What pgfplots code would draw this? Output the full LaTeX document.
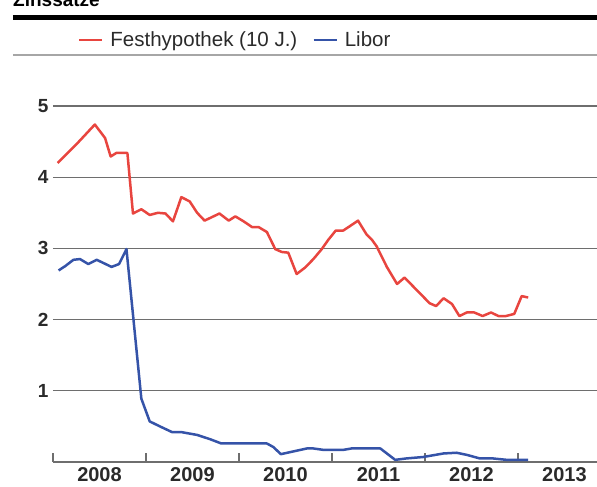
\documentclass[border=0pt]{standalone}
\usepackage{pgfplots}
\pgfplotsset{compat=1.18}
\usepackage{fontspec}
\setmainfont{Liberation Sans}
\definecolor{redline}{HTML}{E8453F}
\definecolor{blueline}{HTML}{3553A8}
\definecolor{gridgray}{HTML}{6E6E6E}
\definecolor{txt}{HTML}{2A2A2A}
\begin{document}
\begin{tikzpicture}
\useasboundingbox (-53pt,-25pt) rectangle (544pt,462pt);
\begin{axis}[
  scale only axis,
  width=544pt, height=391.6pt,
  xmin=2008, xmax=2013.85,
  ymin=0, ymax=5.5,
  axis x line*=bottom, axis y line*=left,
  y axis line style={draw=none},
  x axis line style={gridgray, line width=1.5pt},
  xtick={2008,2009,2010,2011,2012,2013},
  xticklabels={},
  major x tick style={gridgray, line width=1.2pt},
  major tick length=9pt,
  xtick align=inside,
  extra x ticks={2008.5,2009.5,2010.5,2011.5,2012.5,2013.5},
  extra x tick labels={2008,2009,2010,2011,2012,2013},
  extra x tick style={major tick length=0pt, grid=none},
  xticklabel style={font=\fontsize{20}{20}\selectfont\bfseries, text=txt, inner sep=1pt, yshift=-4pt},
  ytick={1,2,3,4,5},
  yticklabels={1,2,3,4,5},
  major y tick style={draw=none},
  yticklabel style={font=\fontsize{19}{19}\selectfont\bfseries, text=txt, xshift=-1pt},
  ymajorgrids,
  grid style={gridgray, line width=1.3pt},
  /pgf/number format/assume math mode=true,
  legend columns=2,
  legend style={at={(0.04,1.078)}, anchor=west, draw=none, fill=none,
    font=\fontsize{20.5}{20.5}\selectfont, text=txt,
    /tikz/every even column/.append style={column sep=13pt}},
  legend image code/.code={\draw[#1] (0pt,0pt)--(23pt,0pt); \path (28pt,0pt);},
]
\addplot[redline, line width=2.5pt, line join=round] coordinates {
(2008.05,4.20) (2008.25,4.46) (2008.45,4.74) (2008.56,4.55) (2008.62,4.29)
(2008.68,4.34) (2008.80,4.34) (2008.86,3.49) (2008.95,3.55) (2009.04,3.47)
(2009.13,3.50) (2009.21,3.49) (2009.29,3.38) (2009.38,3.72) (2009.47,3.66)
(2009.55,3.50) (2009.63,3.39) (2009.71,3.44) (2009.79,3.49) (2009.89,3.39)
(2009.96,3.45) (2010.05,3.38) (2010.14,3.30) (2010.21,3.30) (2010.30,3.23)
(2010.39,2.99) (2010.46,2.95) (2010.53,2.94) (2010.62,2.64) (2010.71,2.73)
(2010.80,2.85) (2010.89,2.99) (2010.96,3.12) (2011.04,3.25) (2011.12,3.25)
(2011.19,3.31) (2011.28,3.39) (2011.37,3.20) (2011.43,3.12) (2011.48,3.03)
(2011.59,2.74) (2011.70,2.50) (2011.78,2.59) (2011.87,2.47) (2011.96,2.35)
(2012.05,2.23) (2012.12,2.19) (2012.20,2.30) (2012.29,2.22) (2012.37,2.05)
(2012.45,2.10) (2012.53,2.10) (2012.62,2.05) (2012.71,2.10) (2012.79,2.05)
(2012.87,2.05) (2012.96,2.08) (2013.04,2.33) (2013.11,2.31)
};
\addlegendentry{Festhypothek (10 J.)}
\addplot[blueline, line width=2.5pt, line join=round] coordinates {
(2008.06,2.69) (2008.13,2.75) (2008.22,2.84) (2008.29,2.85) (2008.38,2.78)
(2008.47,2.84) (2008.63,2.74) (2008.71,2.78) (2008.79,2.99) (2008.95,0.89)
(2009.04,0.57) (2009.15,0.50) (2009.28,0.42) (2009.38,0.42) (2009.55,0.38)
(2009.69,0.32) (2009.81,0.26) (2010.30,0.26) (2010.37,0.21) (2010.45,0.11)
(2010.59,0.15) (2010.73,0.19) (2010.80,0.19) (2010.91,0.17) (2011.12,0.17)
(2011.21,0.19) (2011.52,0.19) (2011.68,0.03) (2011.80,0.05) (2011.98,0.07)
(2012.20,0.12) (2012.34,0.13) (2012.45,0.10) (2012.59,0.05) (2012.73,0.05)
(2012.88,0.03) (2013.11,0.03)
};
\addlegendentry{Libor}
\end{axis}
\node[anchor=base west, font=\fontsize{19}{19}\selectfont\bfseries, inner sep=0pt] at (-40pt,455pt) {Zinssätze};
\draw[black, line width=5pt] (-40pt,444.5pt) -- (544pt,444.5pt);
\draw[gray!70, line width=2.5pt] (-40pt,407pt) -- (544pt,407pt);
\end{tikzpicture}
\end{document}
